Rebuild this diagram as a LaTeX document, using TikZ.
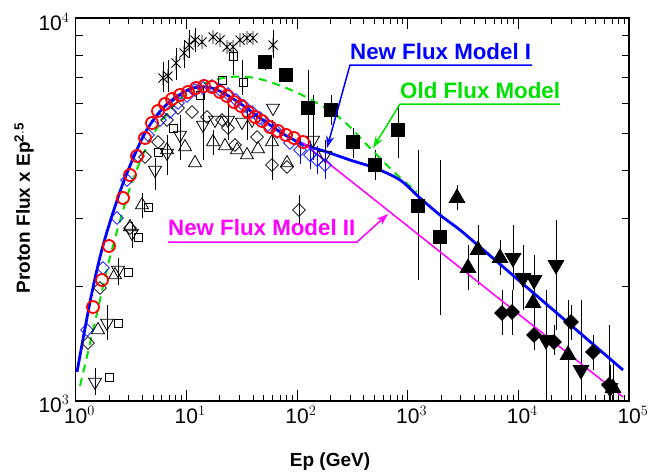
\documentclass[tikz,border=0pt]{standalone}
\usepackage{fontspec}
\setmainfont{Liberation Sans}
\usetikzlibrary{shapes.geometric,arrows.meta}
\definecolor{mgn}{RGB}{255,0,255}
\definecolor{grn}{RGB}{0,225,0}
\begin{document}
\begin{tikzpicture}[x=1pt,y=-1pt,
  mk/.style={inner sep=0pt,draw,line width=0.8pt},
  ocirc/.style={mk,circle,draw=red,line width=1.8pt,minimum size=12pt},
  bdia/.style={mk,diamond,draw=blue,minimum size=13pt,aspect=1.5},
  odia/.style={mk,diamond,minimum size=13pt,aspect=0.7},
  fdia/.style={odia,fill=black,minimum size=15pt},
  otri/.style={mk,regular polygon,regular polygon sides=3,minimum size=15pt},
  otrd/.style={otri,shape border rotate=180},
  ftri/.style={otri,fill=black,minimum size=18pt},
  ftrd/.style={otrd,fill=black,minimum size=18pt},
  osq/.style={mk,rectangle,minimum size=8pt},
  fsq/.style={mk,rectangle,fill=black,minimum size=13pt},
  err/.style={line width=0.8pt},
  lab/.style={font=\fontsize{22.3}{26}\selectfont\bfseries,anchor=base west,inner sep=0pt},
  tk/.style={font=\fontsize{21}{24}\selectfont}]
\useasboundingbox (0,0) rectangle (654,474);
% frame
\draw[line width=1.2pt] (75.5,18) rectangle (629,401);
% x ticks
\foreach \d in {0,...,4}{
  \foreach \m in {2,...,9}{
    \pgfmathsetmacro\xx{75.5+110.7*(\d+log10(\m))}
    \draw (\xx,401) -- ++(0,-6); \draw (\xx,18) -- ++(0,6);}}
\foreach \d in {0,...,5}{
  \pgfmathsetmacro\xx{75.5+110.7*\d}
  \draw (\xx,401) -- ++(0,-11); \draw (\xx,18) -- ++(0,11);
  \node[tk,anchor=north] at (\xx+4,403) {10$^{\d}$};}
% y ticks
\foreach \m in {2,...,9}{
  \pgfmathsetmacro\yy{401-383*log10(\m)}
  \draw (75.5,\yy) -- ++(7,0); \draw (629,\yy) -- ++(-7,0);}
\node[tk,anchor=east] at (73,404) {10$^{3}$};
\node[tk,anchor=east] at (73,22) {10$^{4}$};
\node[font=\fontsize{19}{22}\selectfont\bfseries] at (330,462) {Ep (GeV)};
\node[font=\fontsize{19}{22}\selectfont\bfseries,rotate=90] at (24,208) {Proton Flux x Ep$^{\mathbf{2.5}}$};
% error bars
\foreach \x/\a/\b in {265/55/70,286/68/82,308/70/140,331/95/125,353/128/158,375/150/180,398/105/158,418/150/280,440/160/315,457/185/210,478/225/285,468/245/290,500/240/275,513/225/290,523/245/310,534/255/320,556/220/330,546/290/400,581/300/401,568/300/401,502/290/335,512/290/335,534/320/350,554/325/355,571/305/340,593/335/370,609/325/401,613/360/401,610/365/401,
 163/62/92,168/60/92,176/48/80,184/40/68,189/30/58,195/28/52,273/30/58,
 299/195/225,95/368/395,107/305/340,118/258/285,132/222/248,142/193/218,180/115/160,203/85/160,228/100/140,247/105/140,313/95/160,325/140/175,272/120/180,242/60/95,233/50/75,155/158/190,167/135/175,213/130/155}
  \draw[err] (\x,\a) -- (\x,\b);
% curves
\draw[grn,dash pattern=on 8pt off 6pt,line width=2pt] plot[smooth] coordinates {(80,386) (95,322) (110,257) (130,188) (150,140) (175,104) (200,85) (230,77) (260,79) (300,94) (340,118) (370,148) (395,173) (417,192)};
\draw[blue,line width=2.8pt] plot[smooth] coordinates {(77,372) (90,302) (100,257) (110,222) (125,178) (145,133) (165,106) (190,89) (212,88) (235,100) (260,118) (285,135) (305,145) (327,152) (350,160) (375,168) (400,180) (420,198) (440,215) (460,230) (480,247) (623,370)};
\draw[mgn,line width=1.5pt] (303,143) -- (623,397);
% markers
\foreach \x/\y in {163/78,168/76,176/63,184/53,189/45,195/40,202/42,213/37,220/40,227/47,233/47,240/40,247/38,253/38,273/45}
  \draw[err] (\x-4.5,\y-4.5) -- (\x+4.5,\y+4.5) (\x-4.5,\y+4.5) -- (\x+4.5,\y-4.5) (\x,\y-7) -- (\x,\y+7);
\foreach \x/\y in {265/62,286/75,308/108,331/110,353/142,375/165,398/130,418/206,440/237}
  \node[fsq] at (\x,\y) {};
\foreach \x/\y in {457/198,478/250,468/268,500/258,533/303,568/355,613/388}
  \node[ftri] at (\x,\y) {};
\foreach \x/\y in {513/258,523/278,534/280,556/265,546/340,581/370,610/388}
  \node[ftrd] at (\x,\y) {};
\foreach \x/\y in {502/313,512/312,534/335,554/342,571/322,593/352,609/385}
  \node[fdia] at (\x,\y) {};
\foreach \x/\y in {195/163,213/142,225/146,237/150,247/155,258/149,272/142,185/147,167/150,287/163,98/330,115/275,130/227,142/205}
  \node[otri] at (\x,\y) {};
\foreach \x/\y in {95/382,107/323,118/270,132/233,155/170,167/153,180/135,203/125,215/120,228/120,242/122,252/120,273/108,313/140,325/155}
  \node[otrd] at (\x,\y) {};
\foreach \x/\y in {88/343,100/288,130/228,145/157,158/142,167/120,178/108,192/112,207/117,222/120,228/128,235/145,257/137,272/165,287/167,299/210}
  \node[odia] at (\x,\y) {};
\foreach \x/\y in {109/377,118/323,128/272,138/237,148/207,158/152,173/128,200/95,222/80,243/82,233/56}
  \node[osq] at (\x,\y) {};
\foreach \x/\y in {87/330,103/268,117/218,127/180,138/156,148/135,160/120,170/112,178/103,187/96,195/90,203/88,212/86,220/90,228/94,236/100,244/106,252/112,260/118,268/125,277/132,290/143,300/150,310/155,317/160,325/165}
  \node[bdia] at (\x,\y) {};
\foreach \x/\y in {300/150,310/155,317/160,325/165}
  \draw[blue,err] (\x,\y-14) -- (\x,\y+14);
\foreach \x/\y in {93/307,102/280,109/246,123/198,130/175,137/156,145/138,152/123,158/111,165/104,172/99,180/95,188/92,196/88,204/86,212/87,220/92,227/96,234/102,241/106,248/112,255/117,262/121,270/127,278/131,286/135,294/138,303/142}
  \node[ocirc] at (\x,\y) {};
% labels
\node[lab,blue] (l1) at (350,59) {New Flux Model I};
\draw[blue,line width=1.5pt,-{Stealth[length=12pt,width=8pt,open]}] (532,65) -- (350,65) -- (327,148);
\node[lab,grn] (l2) at (400,98) {Old Flux Model};
\draw[grn,line width=1.5pt,-{Stealth[length=12pt,width=8pt,open]}] (560,104) -- (400,104) -- (373,148);
\node[lab,mgn] (l3) at (168,235) {New Flux Model II};
\draw[mgn,line width=1.5pt,-{Stealth[length=12pt,width=8pt,open]}] (168,242) -- (357,242) -- (388,214);
\end{tikzpicture}
\end{document}
